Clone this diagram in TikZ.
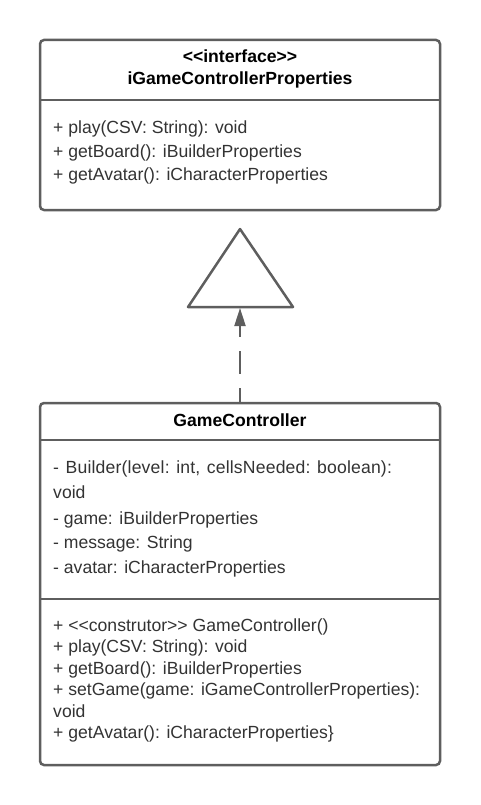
\documentclass[tikz,border=0pt]{standalone}
\usepackage{fontspec}
\setmainfont{Liberation Sans}
\usetikzlibrary{arrows.meta}
\definecolor{linegray}{HTML}{5E5E5E}
\definecolor{txtgray}{HTML}{333333}
\newcommand{\wsp}{\hspace{6.6pt}}
\newcommand{\lt}{<\kern0pt<}
\newcommand{\gt}{>\kern0pt>}
\tikzset{
  umlbox/.style={draw=linegray, line width=2.5pt, rounded corners=4pt, fill=white},
  divider/.style={draw=linegray, line width=2.5pt},
  member/.style={anchor=base west, inner sep=0pt, text=txtgray, font=\fontsize{17.6}{20}\selectfont},
  title/.style={anchor=base, inner sep=0pt, text=black, font=\fontsize{17.6}{20}\selectfont\bfseries},
  realize/.style={draw=linegray, line width=2pt, dash pattern=on 23pt off 14pt, dash phase=8pt,
    -{Triangle[length=18pt,width=11pt]}},
  hollowtri/.style={draw=linegray, line width=2.5pt, line join=round, fill=white}
}
\begin{document}
\begin{tikzpicture}[x=1pt,y=-1pt]
\useasboundingbox (0,0) rectangle (480,805);
% interface box
\draw[umlbox] (40,40) rectangle (440,210);
\node[draw=none, minimum width=400pt, minimum height=170pt, inner sep=0pt] (iface) at (240,125) {};
\draw[divider] (40,100) -- (440,100);
\node[title] (ifst) at (240,63) {\lt interface\gt};
\node[title] (ifname) at (240,84.5) {iGameControllerProperties};
\node[member] (if1) at (53,134) {+ play(CSV: String): void};
\node[member] (if2) at (53,157.5) {+ getBoard(): iBuilderProperties};
\node[member] (if3) at (53,181) {+ getAvatar(): iCharacterProperties};
% hollow triangle
\coordinate (apex) at (240,229);
\coordinate (bl) at (188,307);
\coordinate (br) at (293,307);
\coordinate (tribase) at (240,308);
\draw[hollowtri] (apex) -- (bl) -- (br) -- cycle;
% GameController box
\draw[umlbox] (40,403) rectangle (440,765);
\node[draw=none, minimum width=400pt, minimum height=362pt, inner sep=0pt] (gc) at (240,584) {};
\draw[divider] (40,440) -- (440,440);
\draw[divider] (40,599) -- (440,599);
\node[title] (gcname) at (240,426) {GameController};
\node[member] (a1) at (53,473) {\addfontfeatures{LetterSpace=1}-\wsp Builder(level:\wsp int,\wsp cellsNeeded:\wsp boolean):};
\node[member] (a1b) at (53,498.5) {void};
\node[member] (a2) at (53,524) {- game: iBuilderProperties};
\node[member] (a3) at (53,548.5) {- message: String};
\node[member] (a4) at (53,573) {- avatar: iCharacterProperties};
\node[member] (m1) at (53,631) {+ \lt construtor\gt{} GameController()};
\node[member] (m2) at (53,652.5) {+ play(CSV: String): void};
\node[member] (m3) at (53,674) {+ getBoard(): iBuilderProperties};
\node[member] (m4) at (53,695.5) {+ setGame(game: iGameControllerProperties):};
\node[member] (m4b) at (53,717) {void};
\node[member] (m5) at (53,738.5) {+ getAvatar(): iCharacterProperties\}};
% realization connector
\draw[realize] (gc.north) -- (tribase);
\end{tikzpicture}
\end{document}
